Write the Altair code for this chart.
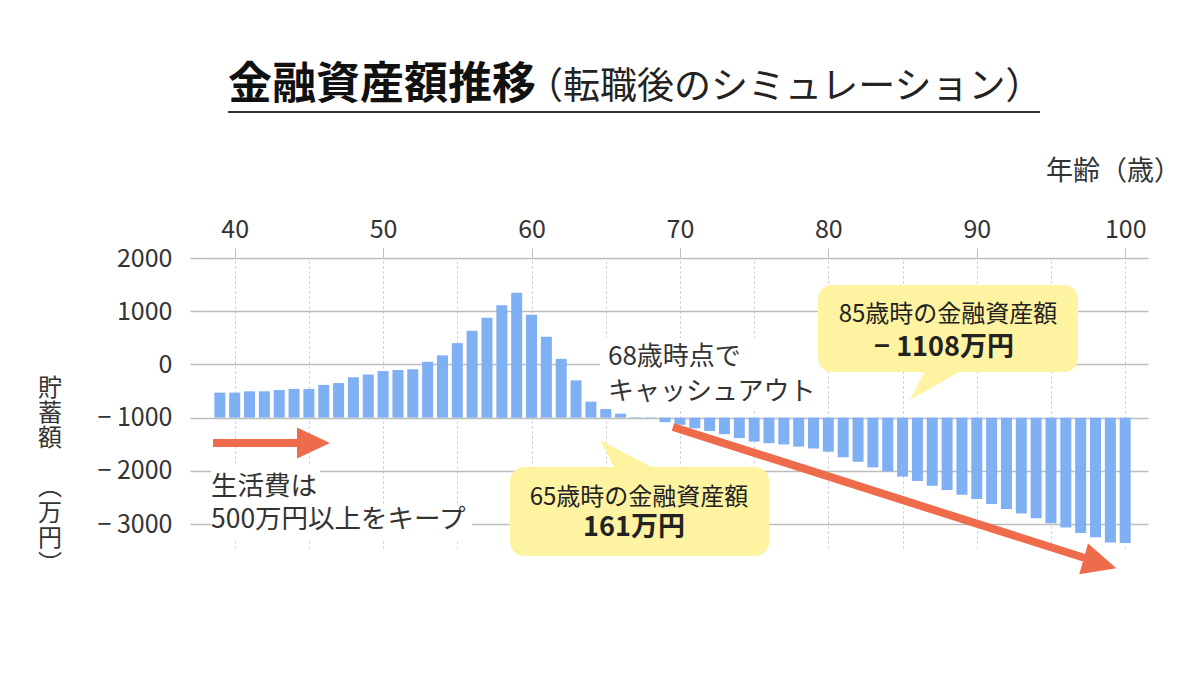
import altair as alt
import pandas as pd

FONT = "Noto Sans CJK JP"

# Financial assets by age (万円), ages 39-100
ages = list(range(39, 101))
savings = [470, 470, 495, 495, 520, 540, 540, 615, 650, 760,
           810, 875, 895, 910, 1050, 1170, 1400, 1635, 1875, 2110,
           2345, 1935, 1520, 1105, 700, 300, 161, 75, 10, -10,
           -85, -135, -200, -250, -310, -385, -450, -480, -505, -545,
           -580, -640, -745, -830, -935, -1010, -1108, -1190, -1280, -1360,
           -1450, -1530, -1625, -1715, -1800, -1890, -1985, -2065, -2170, -2250,
           -2345, -2355]

x_ticks = list(range(40, 101, 5))
y_ticks = [-2000, -1000, 0, 1000, 2000, 3000]
y_label_shift = 1000  # axis labels are printed 1000 below the bar baseline

# vertical y-axis title, one glyph per row
y_title_upper = ["貯", "蓄", "額"]
y_title_lower = ["\uFE35", "万", "円", "\uFE36"]

BAR = "#80B0F4"
RED = "#EE6B4B"
YELLOW = "#FDF3A1"
GRID = "#BDBDBD"

W, H = 948, 290
PAD_L, PAD_T, PAD_R, PAD_B = 200, 258, 52, 127

one = pd.DataFrame({"k": [0]})


def px(X):
    return X - PAD_L


def py(Y):
    return Y - PAD_T


def text(s, X, Y, size, weight="normal", align="left", color="#333333",
         baseline="middle"):
    return alt.Chart(one).mark_text(
        text=s, fontSize=size, fontWeight=weight, align=align,
        baseline=baseline, color=color, font=FONT
    ).encode(x=alt.value(px(X)), y=alt.value(py(Y)))


def box(X0, X1, Y0, Y1, color, radius=0):
    return alt.Chart(one).mark_rect(color=color, cornerRadius=radius).encode(
        x=alt.value(px(X0)), x2=alt.value(px(X1)),
        y=alt.value(py(Y0)), y2=alt.value(py(Y1)))


def seg(X0, Y0, X1, Y1, color, width):
    return alt.Chart(one).mark_rule(color=color, strokeWidth=width,
                                    strokeCap="butt").encode(
        x=alt.value(px(X0)), x2=alt.value(px(X1)),
        y=alt.value(py(Y0)), y2=alt.value(py(Y1)))


def symbol(path, X, Y, size, color, angle=0):
    return alt.Chart(one).mark_point(shape=path, filled=True, color=color,
                                     opacity=1, size=size, angle=angle,
                                     strokeWidth=0).encode(
        x=alt.value(px(X)), y=alt.value(py(Y)))


def vertical(chars, X, Y0, step, size):
    return [text(c, X, Y0 + i * step, size, align="center")
            for i, c in enumerate(chars)]


ARROW_HEAD = "M 1 0 L -1 -0.94 L -1 0.94 Z"

y_label = ("(datum.value - {s}) < 0 ? '\u2212 ' + format(abs(datum.value - {s}), 'd')"
           " : format(datum.value - {s}, 'd')").format(s=y_label_shift)

bars = alt.Chart(pd.DataFrame({"age": ages, "savings": savings})).mark_bar(
    color=BAR, size=11
).encode(
    x=alt.X("age:Q",
            scale=alt.Scale(domain=[38, 101.2], nice=False, zero=False),
            axis=alt.Axis(orient="top", values=x_ticks, title=None,
                          labelExpr="datum.value % 10 === 0 ? datum.label : ''",
                          labelFont=FONT, labelFontSize=25, labelColor="#333333",
                          labelPadding=6, tickSize=10, tickColor=GRID,
                          tickOpacity={"condition": {"test": "datum.value % 10 === 0", "value": 1}, "value": 0},
                          domain=False, grid=True, gridColor="#C4C4C4",
                          gridDash=[2, 3], gridWidth=1)),
    y=alt.Y("savings:Q",
            scale=alt.Scale(domain=[-2450, 3000], nice=False, zero=False),
            axis=alt.Axis(values=y_ticks, title=None, labelExpr=y_label,
                          labelFont=FONT, labelFontSize=25, labelColor="#333333",
                          labelPadding=18, tickSize=10, tickColor=GRID,
                          tickWidth=1.5, domain=False, grid=True,
                          gridColor=GRID, gridWidth=1.5)),
)

layers = [
    # white backgrounds behind in-plot captions
    box(600, 822, 338, 408, "white"),
    box(211, 320, 466, 504, "white"),
    box(211, 472, 505, 540, "white"),
    bars,
    # arrows
    seg(213, 443, 300, 443, RED, 8),
    symbol(ARROW_HEAD, 313.5, 443, 1089, RED),
    seg(673, 427, 1088, 559, RED, 8),
    symbol(ARROW_HEAD, 1100, 563.5, 1156, RED, angle=16),
    # callouts
    box(510, 769, 467, 556, YELLOW, radius=14),
    symbol("M -0.967 -0.467 L -0.433 0.55 L 0.967 0.55 Z", 629, 454, 3600, YELLOW),
    box(818, 1078, 285, 372, YELLOW, radius=14),
    symbol("M -0.9 0.483 L -0.367 -0.55 L 0.9 -0.55 Z", 937, 385.5, 3600, YELLOW),
    text("65歳時の金融資産額", 639, 498, 24, align="center", color="#222222"),
    text("161万円", 634, 528, 27, weight="bold", align="center", color="#222222"),
    text("85歳時の金融資産額", 948, 315, 24, align="center", color="#222222"),
    text("\u2212 1108万円", 944, 348, 27, weight="bold", align="center", color="#222222"),
    # captions
    text("68歳時点で", 608, 357, 26),
    text("キャッシュアウト", 608, 392, 26),
    text("生活費は", 211, 487, 26.5),
    text("500万円以上をキープ", 211, 520, 26.5),
    # axis titles
    text("年齢（歳）", 1046, 172, 27),
    *vertical(y_title_upper, 50, 389, 25, 24),
    *vertical(y_title_lower, 50, 488, 25.5, 24),
    # heading
    text("金融資産額推移", 228, 86, 44, weight="bold", color="#111111"),
    text("（転職後のシミュレーション）", 526, 88, 37, color="#222222"),
    seg(228, 112, 1040, 112, "#333333", 2),
]

chart = alt.layer(*layers).properties(
    width=W, height=H,
    autosize=alt.AutoSizeParams(type="none"),
    padding={"left": PAD_L, "top": PAD_T, "right": PAD_R, "bottom": PAD_B},
    background="white",
).configure_view(stroke=None)

chart.save("out.html", embed_options={"renderer": "svg", "actions": False})
